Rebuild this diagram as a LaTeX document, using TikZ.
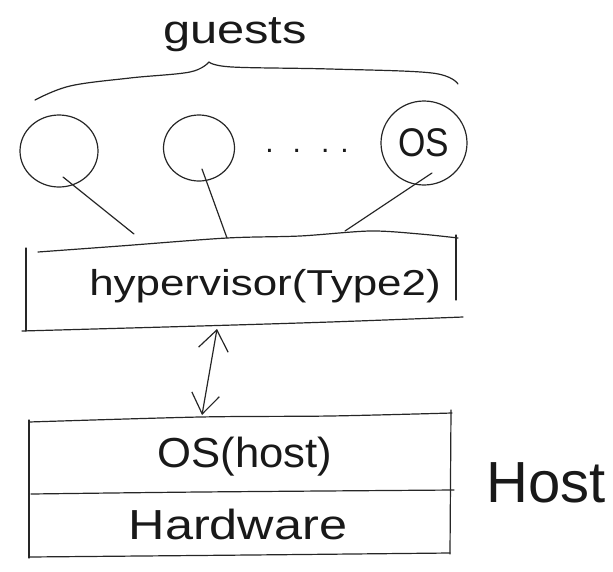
\documentclass[tikz,border=0pt]{standalone}
\usepackage{fontspec}
\setmainfont{Liberation Sans}
\usetikzlibrary{shapes.geometric,calc,arrows.meta}
\newcommand{\fsz}[2]{\fontsize{#1}{#2}\selectfont}
\begin{document}
\begin{tikzpicture}[x=1pt,y=-1pt,
  ink/.style={draw=black!85,line width=1.2pt,line cap=round,line join=round},
  guest/.style={ink,ellipse,inner sep=0pt},
  lbl/.style={text=black!90,inner sep=0pt,anchor=base}]
\useasboundingbox (0,0) rectangle (613,571);
% guests label and brace
\node[lbl,font=\fsz{40}{44}] (guests) at (235,43) {\scalebox{1.22}[1]{guests}};
\draw[ink] plot[smooth,tension=0.6] coordinates {(35,100) (70,86) (130,78) (190,72) (209,62)};
\draw[ink] plot[smooth,tension=0.6] coordinates {(209,62) (232,67) (330,69) (432,73) (458,84)};
% guest circles
\node[guest,minimum width=78pt,minimum height=72pt] (g1) at (59,151) {};
\node[guest,minimum width=71pt,minimum height=66pt] (g2) at (199,148) {};
\node[lbl,font=\fsz{30}{34}] (dots) at (307,152) {.\hspace{19pt}.\hspace{20pt}.\hspace{11pt}.};
\node[guest,minimum width=86pt,minimum height=84pt,font=\fsz{40}{44},text=black!90] (g3) at (424,143) {\scalebox{0.88}[1]{OS}};
% hypervisor layer (hand-drawn outline)
\node[lbl,font=\fsz{36}{40}] (hyp) at (265,295) {\scalebox{1.22}[1]{hypervisor(Type2)}};
\coordinate (hypL) at (26,248);
\coordinate (hypR) at (456,235);
\draw[ink] plot[smooth,tension=0.5] coordinates {(38,252) (120,246) (227,238) (300,236) (370,231) (420,234) (458,238)};
\draw[ink] (hypL) -- (26,331);
\draw[ink] (hypR) -- (456,300);
\draw[ink] plot[smooth,tension=0.5] coordinates {(22,331) (200,326) (330,322) (463,317)};
% connectors from guests
\coordinate (e1) at (134,234);
\coordinate (e2) at (227,238);
\coordinate (e3) at (345,231);
\draw[ink] ($(g1.center)+(4,26)$) -- (e1);
\draw[ink] ($(g2.center)+(3,21)$) -- (e2);
\draw[ink] ($(g3.center)+(8,30)$) -- (e3);
% host stack
\node[lbl,font=\fsz{42}{46}] (os) at (245,467) {\scalebox{1.04}[1]{OS(host)}};
\node[lbl,font=\fsz{42}{46}] (hw) at (238,539) {\scalebox{1.2}[1]{Hardware}};
\draw[ink] plot[smooth,tension=0.5] coordinates {(29,422) (200,417) (330,416) (452,413)};
\draw[ink] plot[smooth,tension=0.5] coordinates {(31,494) (200,492) (454,490)};
\draw[ink] plot[smooth,tension=0.5] coordinates {(29,557) (250,555) (450,553)};
\draw[ink] (29,420) -- (29,558);
\draw[ink] (451,410) -- (450,554);
% arrow between hypervisor and host OS
\coordinate (at) at (217,329);
\coordinate (ab) at (202,415);
\draw[ink,{Straight Barb[length=20pt,width=30pt]}-{Straight Barb[length=20pt,width=28pt]}] (at) -- (ab);
\node[lbl,font=\fsz{58}{62}] (host) at (546,502) {Host};
\end{tikzpicture}
\end{document}
